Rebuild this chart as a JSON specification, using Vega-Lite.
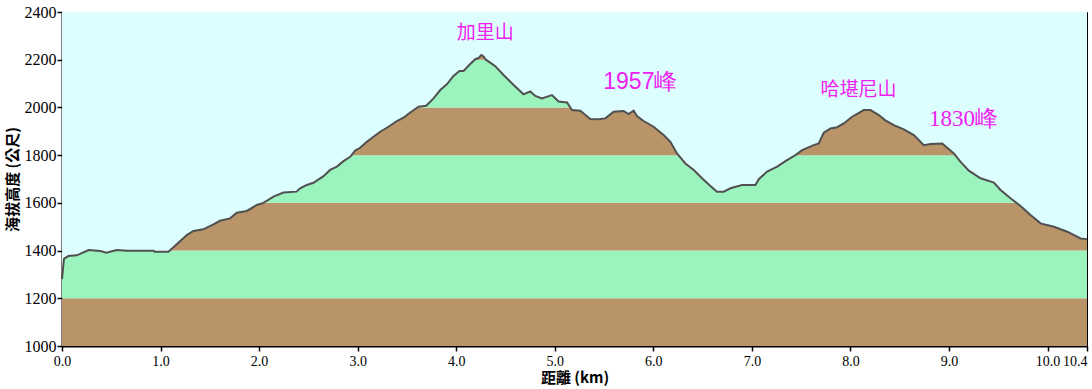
{
  "$schema": "https://vega.github.io/schema/vega-lite/v6.json",
  "autosize": {"type": "none"},
  "padding": {"left": 62, "top": 12, "right": 5, "bottom": 43},
  "width": 1025,
  "height": 334,
  "background": "white",
  "config": {
    "view": {"stroke": "black", "strokeWidth": 1},
    "axis": {
      "domainColor": "black", "domainWidth": 2, "tickColor": "black", "tickSize": 5, "tickWidth": 1.5,
      "labelFont": "Liberation Serif", "labelFontSize": 16, "labelColor": "black", "grid": false,
      "labelOverlap": false, "labelFlush": false,
      "titleFont": "Noto Sans CJK TC", "titleFontSize": 15, "titleFontWeight": "bold", "titleColor": "black"
    }
  },
  "datasets": {
    "profile": [
      {"km": 0.0, "elev": 1280}, {"km": 0.02, "elev": 1365}, {"km": 0.064, "elev": 1377}, {"km": 0.15, "elev": 1380},
      {"km": 0.27, "elev": 1402}, {"km": 0.39, "elev": 1398}, {"km": 0.45, "elev": 1391}, {"km": 0.555, "elev": 1402},
      {"km": 0.66, "elev": 1399}, {"km": 0.93, "elev": 1399}, {"km": 0.944, "elev": 1395}, {"km": 1.08, "elev": 1395},
      {"km": 1.164, "elev": 1426}, {"km": 1.266, "elev": 1465}, {"km": 1.333, "elev": 1482}, {"km": 1.435, "elev": 1489},
      {"km": 1.536, "elev": 1510}, {"km": 1.604, "elev": 1525}, {"km": 1.706, "elev": 1535}, {"km": 1.773, "elev": 1559},
      {"km": 1.875, "elev": 1566}, {"km": 1.977, "elev": 1591}, {"km": 2.044, "elev": 1600}, {"km": 2.146, "elev": 1626},
      {"km": 2.247, "elev": 1643}, {"km": 2.38, "elev": 1647}, {"km": 2.416, "elev": 1661}, {"km": 2.484, "elev": 1675},
      {"km": 2.552, "elev": 1684}, {"km": 2.653, "elev": 1712}, {"km": 2.72, "elev": 1738}, {"km": 2.789, "elev": 1752},
      {"km": 2.856, "elev": 1775}, {"km": 2.924, "elev": 1793}, {"km": 2.975, "elev": 1819}, {"km": 3.025, "elev": 1831},
      {"km": 3.093, "elev": 1856}, {"km": 3.228, "elev": 1898}, {"km": 3.313, "elev": 1919}, {"km": 3.398, "elev": 1943},
      {"km": 3.465, "elev": 1957}, {"km": 3.533, "elev": 1979}, {"km": 3.618, "elev": 2003}, {"km": 3.695, "elev": 2007},
      {"km": 3.77, "elev": 2038}, {"km": 3.838, "elev": 2073}, {"km": 3.905, "elev": 2097}, {"km": 3.972, "elev": 2132},
      {"km": 4.033, "elev": 2153}, {"km": 4.074, "elev": 2153}, {"km": 4.142, "elev": 2182}, {"km": 4.193, "elev": 2202},
      {"km": 4.226, "elev": 2207}, {"km": 4.254, "elev": 2220}, {"km": 4.277, "elev": 2214}, {"km": 4.3, "elev": 2200},
      {"km": 4.345, "elev": 2188}, {"km": 4.396, "elev": 2173}, {"km": 4.48, "elev": 2136}, {"km": 4.582, "elev": 2094},
      {"km": 4.683, "elev": 2055}, {"km": 4.751, "elev": 2067}, {"km": 4.802, "elev": 2048}, {"km": 4.87, "elev": 2038},
      {"km": 4.971, "elev": 2052}, {"km": 5.039, "elev": 2025}, {"km": 5.124, "elev": 2021}, {"km": 5.175, "elev": 1989},
      {"km": 5.259, "elev": 1986}, {"km": 5.36, "elev": 1951}, {"km": 5.445, "elev": 1950}, {"km": 5.513, "elev": 1954},
      {"km": 5.597, "elev": 1982}, {"km": 5.698, "elev": 1985}, {"km": 5.749, "elev": 1972}, {"km": 5.8, "elev": 1986},
      {"km": 5.834, "elev": 1964}, {"km": 5.901, "elev": 1943}, {"km": 6.003, "elev": 1919}, {"km": 6.104, "elev": 1884},
      {"km": 6.173, "elev": 1856}, {"km": 6.24, "elev": 1807}, {"km": 6.325, "elev": 1765}, {"km": 6.41, "elev": 1738},
      {"km": 6.494, "elev": 1703}, {"km": 6.579, "elev": 1671}, {"km": 6.646, "elev": 1647}, {"km": 6.714, "elev": 1647},
      {"km": 6.782, "elev": 1661}, {"km": 6.9, "elev": 1675}, {"km": 7.036, "elev": 1675}, {"km": 7.07, "elev": 1699},
      {"km": 7.154, "elev": 1731}, {"km": 7.256, "elev": 1752}, {"km": 7.34, "elev": 1775}, {"km": 7.442, "elev": 1800},
      {"km": 7.51, "elev": 1821}, {"km": 7.627, "elev": 1842}, {"km": 7.678, "elev": 1849}, {"km": 7.729, "elev": 1894},
      {"km": 7.797, "elev": 1912}, {"km": 7.865, "elev": 1917}, {"km": 7.932, "elev": 1933}, {"km": 8.017, "elev": 1961},
      {"km": 8.135, "elev": 1989}, {"km": 8.203, "elev": 1989}, {"km": 8.288, "elev": 1968}, {"km": 8.35, "elev": 1947},
      {"km": 8.44, "elev": 1926}, {"km": 8.541, "elev": 1908}, {"km": 8.643, "elev": 1884}, {"km": 8.744, "elev": 1842},
      {"km": 8.812, "elev": 1847}, {"km": 8.931, "elev": 1849}, {"km": 9.049, "elev": 1807}, {"km": 9.117, "elev": 1772},
      {"km": 9.201, "elev": 1735}, {"km": 9.32, "elev": 1703}, {"km": 9.455, "elev": 1685}, {"km": 9.523, "elev": 1654},
      {"km": 9.624, "elev": 1619}, {"km": 9.726, "elev": 1587}, {"km": 9.827, "elev": 1549}, {"km": 9.929, "elev": 1514},
      {"km": 10.064, "elev": 1500}, {"km": 10.2, "elev": 1479}, {"km": 10.335, "elev": 1451}, {"km": 10.4, "elev": 1448}
    ],
    "bands": [
      {"lo": 1000, "hi": 1200, "c": "brown"}, {"lo": 1200, "hi": 1400, "c": "green"},
      {"lo": 1400, "hi": 1600, "c": "brown"}, {"lo": 1600, "hi": 1800, "c": "green"},
      {"lo": 1800, "hi": 2000, "c": "brown"}, {"lo": 2000, "hi": 2200, "c": "green"},
      {"lo": 2200, "hi": 2400, "c": "brown"}
    ],
    "labels": [
      {"km": 4.294, "elev": 2312, "text": "加里山", "kind": "cjk"},
      {"km": 8.081, "elev": 2073, "text": "哈堪尼山", "kind": "cjk"},
      {"km": 5.868, "elev": 2106, "text": "1957峰", "kind": "sans"},
      {"km": 9.147, "elev": 1951, "text": "1830峰", "kind": "serif"}
    ]
  },
  "layer": [
    {
      "data": {"name": "bands"},
      "mark": {"type": "rect"},
      "encoding": {
        "x": {"datum": 0, "type": "quantitative", "scale": {"domain": [0, 10.4], "nice": false, "zero": false},
              "axis": {"values": [0, 1, 2, 3, 4, 5, 6, 7, 8, 9, 10, 10.4], "format": ".1f", "title": "距離  (km)",
                       "labelFont": "Liberation Serif", "labelFontSize": 14, "labelPadding": 3, "titlePadding": 2,
                       "labelAlign": {"expr": "datum.value > 10.2 ? 'right' : 'center'"}}},
        "x2": {"datum": 10.4},
        "y": {"field": "lo", "type": "quantitative", "scale": {"domain": [1000, 2400], "nice": false, "zero": false},
              "axis": {"values": [1000, 1200, 1400, 1600, 1800, 2000, 2200, 2400], "format": "d", "title": "海拔高度 (公尺)",
                       "labelFont": "Liberation Serif", "labelPadding": 1, "titlePadding": 4}},
        "y2": {"field": "hi"},
        "color": {"field": "c", "type": "nominal", "scale": {"domain": ["brown", "green"], "range": ["#b89468", "#9bf3be"]}, "legend": null}
      }
    },
    {
      "data": {"name": "profile"},
      "mark": {"type": "area", "color": "#dcfefe", "interpolate": "linear"},
      "encoding": {
        "x": {"field": "km", "type": "quantitative"},
        "y": {"field": "elev", "type": "quantitative"},
        "y2": {"datum": 2400}
      }
    },
    {
      "data": {"name": "profile"},
      "mark": {"type": "line", "color": "#505050", "strokeWidth": 2},
      "encoding": {
        "x": {"field": "km", "type": "quantitative"},
        "y": {"field": "elev", "type": "quantitative"}
      }
    },
    {
      "data": {"name": "labels"},
      "transform": [{"filter": "datum.kind == 'cjk'"}],
      "mark": {"type": "text", "font": "Noto Sans CJK TC", "fontSize": 19, "color": "#f020f0", "align": "center", "baseline": "middle"},
      "encoding": {
        "x": {"field": "km", "type": "quantitative"},
        "y": {"field": "elev", "type": "quantitative"},
        "text": {"field": "text"}
      }
    },
    {
      "data": {"name": "labels"},
      "transform": [{"filter": "datum.kind == 'sans'"}],
      "mark": {"type": "text", "font": "Liberation Sans", "fontSize": 23, "color": "#f020f0", "align": "center", "baseline": "middle"},
      "encoding": {
        "x": {"field": "km", "type": "quantitative"},
        "y": {"field": "elev", "type": "quantitative"},
        "text": {"field": "text"}
      }
    },
    {
      "data": {"name": "labels"},
      "transform": [{"filter": "datum.kind == 'serif'"}],
      "mark": {"type": "text", "font": "Liberation Serif", "fontSize": 23, "color": "#f020f0", "align": "center", "baseline": "middle"},
      "encoding": {
        "x": {"field": "km", "type": "quantitative"},
        "y": {"field": "elev", "type": "quantitative"},
        "text": {"field": "text"}
      }
    }
  ]
}
